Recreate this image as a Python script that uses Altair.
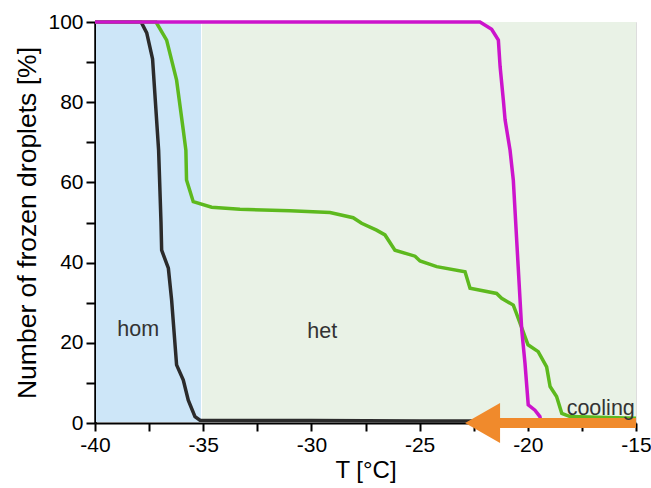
import altair as alt
import pandas as pd

# Freezing curves: temperature (°C) vs. frozen droplets (%)
black_T = [-40, -37.87, -37.61, -37.34, -37.06, -36.95, -36.92, -36.61, -36.46,
           -36.23, -35.92, -35.69, -35.38, -35.15, -30, -25, -20, -15]
black_P = [100, 100, 97.3, 90.8, 68, 50, 43.1, 38.6, 30.7,
           14.5, 10.7, 5.7, 1.6, 0.7, 0.6, 0.5, 0.5, 0.5]

green_T = [-40, -37.18, -36.69, -36.23, -35.92, -35.80, -35.77, -35.46, -34.61,
           -33.3, -30.99, -29.14, -28.07, -27.68, -26.99, -26.6, -26.14, -25.21,
           -24.98, -24.21, -22.9, -22.67, -21.44, -21.21, -20.67, -20.53, -19.99,
           -19.52, -19.13, -18.97, -18.67, -18.43, -18.05, -15]
green_P = [100, 100, 95.5, 85.5, 73, 68, 60.6, 55.2, 53.8,
           53.3, 52.9, 52.5, 51.2, 49.8, 48.1, 46.9, 43.1, 41.6,
           40.4, 39.0, 37.7, 33.6, 32.3, 31.1, 29.4, 27.4, 19.5,
           17.8, 14.0, 9.1, 6.6, 2.4, 1.6, 1.2]

magenta_T = [-40, -22.21, -21.67, -21.36, -21.28, -21.13, -21.05, -20.82, -20.67,
             -20.28, -20.13, -19.98, -19.67, -19.44, -19.4]
magenta_P = [100, 100, 98.2, 95.5, 88.9, 80.5, 75.6, 68, 60.6,
             23.2, 14.9, 4.5, 3.2, 1.6, 0.5]

# Nucleation regimes
zone_names = ["hom", "het"]
zone_start = [-40, -35.1]
zone_end = [-35.1, -15]
zone_label_T = [-38.0, -29.5]
zone_label_P = [23.3, 22.8]

# Cooling direction arrow
arrow_tip_T = -22.9
arrow_tail_T = -15
arrow_head_back_T = -21.3

FONT = "Liberation Sans"
x_ticks = [-40 + 2.5 * i for i in range(11)]
y_ticks = [10 * i for i in range(11)]

xs = alt.Scale(domain=[-40, -15], nice=False, zero=False)
ys = alt.Scale(domain=[0, 100], nice=False)

x_axis = alt.Axis(values=x_ticks, labelExpr="datum.value % 5 == 0 ? '' + datum.value : ''",
                  title="T [°C]", grid=False, tickSize=8, tickWidth=2, domainWidth=2,
                  domainColor="black", tickColor="black", labelColor="black",
                  labelFontSize=21, labelFont=FONT, labelFlush=False, labelOverlap=False,
                  labelPadding=3, titleFont=FONT, titleFontSize=24, titleFontWeight="normal",
                  titleColor="black", titlePadding=3)
y_axis = alt.Axis(values=y_ticks, labelExpr="datum.value % 20 == 0 ? '' + datum.value : ''",
                  title="Number of frozen droplets [%]", grid=False, tickSize=9, tickWidth=2,
                  domainWidth=2.5, domainColor="black", tickColor="black", labelColor="black",
                  labelFontSize=21, labelFont=FONT, labelOverlap=False, labelPadding=3,
                  titleFont=FONT, titleFontSize=26.5, titleFontWeight="normal",
                  titleColor="black", titlePadding=6)

zones = pd.DataFrame({"zone": zone_names, "x0": zone_start, "x1": zone_end,
                      "top": [100, 100], "bottom": [0, 0],
                      "lx": zone_label_T, "ly": zone_label_P})

bg = alt.Chart(zones).mark_rect(xOffset=1, y2Offset=-1).encode(
    x=alt.X("x0:Q", scale=xs, axis=x_axis),
    x2="x1:Q",
    y=alt.Y("top:Q", scale=ys, axis=y_axis),
    y2="bottom:Q",
    color=alt.Color("zone:N", scale=alt.Scale(domain=zone_names, range=["#cde6f8", "#e9f2e6"]),
                    legend=None),
)

zone_text = alt.Chart(zones).mark_text(font=FONT, fontSize=21.5, color="#333333",
                                       align="center", baseline="middle").encode(
    x=alt.X("lx:Q", scale=xs), y=alt.Y("ly:Q", scale=ys), text="zone:N")


def curve(T, P, color):
    df = pd.DataFrame({"T": T, "P": P})
    return alt.Chart(df).mark_line(color=color, strokeWidth=3.5, clip=False).encode(
        x=alt.X("T:Q", scale=xs), y=alt.Y("P:Q", scale=ys))


black = curve(black_T, black_P, "#2b2b2b")
green = curve(green_T, green_P, "#5db91e")
magenta = curve(magenta_T, magenta_P, "#cc14cc")

arrow_df = pd.DataFrame({"x0": [arrow_head_back_T], "x1": [arrow_tail_T],
                         "tip": [arrow_tip_T], "y": [0]})
shaft = alt.Chart(arrow_df).mark_rule(color="#f08a2c", strokeWidth=10, strokeCap="butt").encode(
    x=alt.X("x0:Q", scale=xs), x2="x1:Q", y=alt.Y("y:Q", scale=ys))
head = alt.Chart(arrow_df).mark_point(shape="M 0 0 L 1.75 -1 L 1.75 1 Z", size=1600,
                                      filled=True, color="#f08a2c", opacity=1,
                                      strokeWidth=0).encode(
    x=alt.X("tip:Q", scale=xs), y=alt.Y("y:Q", scale=ys))

cool_df = pd.DataFrame({"T": [-16.63], "P": [2.0], "t": ["cooling"]})
cooling = alt.Chart(cool_df).mark_text(font=FONT, fontSize=21.5, color="#333333",
                                       align="center", baseline="alphabetic").encode(
    x=alt.X("T:Q", scale=xs), y=alt.Y("P:Q", scale=ys), text="t:N")

chart = alt.layer(bg, zone_text, black, green, magenta, shaft, head, cooling).properties(
    width=541, height=401,
    padding={"left": 95, "top": 22, "right": 15, "bottom": 65},
    autosize="none",
).configure_view(stroke=None).configure(background="white")

chart.save("out.html", embed_options={"renderer": "svg", "actions": False})
